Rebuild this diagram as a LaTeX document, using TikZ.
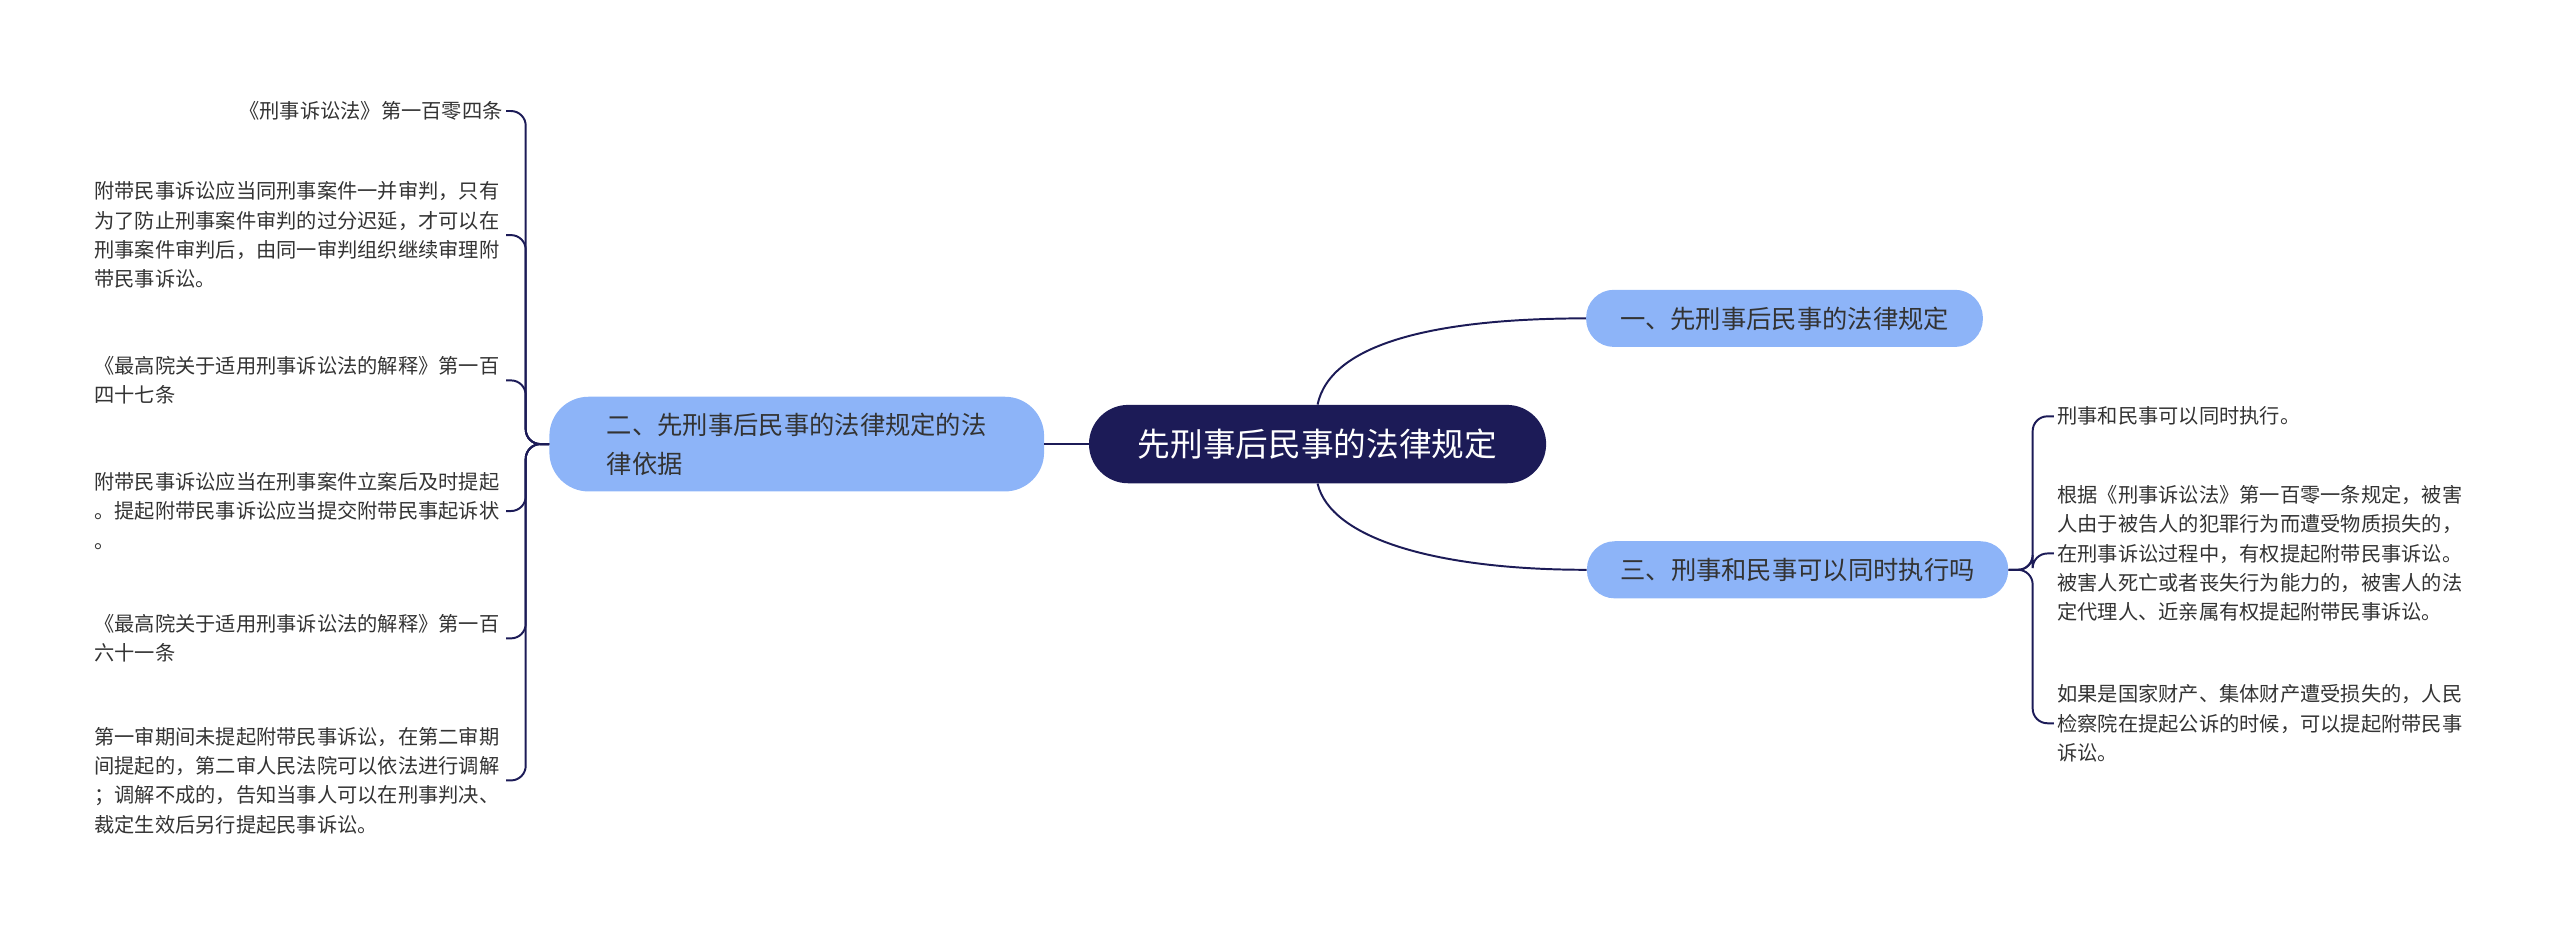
\documentclass[tikz,border=0pt]{standalone}
\usepackage{fontspec}
\setmainfont{Noto Sans CJK SC}
\definecolor{navy}{HTML}{1C1B57}
\definecolor{lblue}{HTML}{8DB4F8}
\definecolor{txt}{HTML}{333333}
\begin{document}
\begin{tikzpicture}[x=1pt,y=-1pt,
  hub/.style={rounded corners=24pt,fill=navy,text=white,minimum width=280pt,minimum height=48pt,font=\fontsize{20}{24}\selectfont},
  sub/.style={rounded corners=17pt,fill=lblue,text=txt,minimum height=35pt,font=\fontsize{15.5}{24}\selectfont,inner xsep=16pt},
  leafL/.style={anchor=east,align=left,text=txt,font=\fontsize{12.4}{18}\selectfont,inner sep=2pt},
  leafR/.style={anchor=west,align=left,text=txt,font=\fontsize{12.4}{18}\selectfont,inner sep=2pt},
  conn/.style={draw=navy,line width=1.2pt,rounded corners=9pt}]
\useasboundingbox (0,0) rectangle (1568,567);
\node[hub] (c) at (807,272) {先刑事后民事的法律规定};
\node[sub,minimum width=243pt] (r1) at (1093,195) {一、先刑事后民事的法律规定};
\node[sub,minimum width=258pt] (r3) at (1101,349) {三、刑事和民事可以同时执行吗};
\node[sub,minimum width=303pt,minimum height=58pt,rounded corners=24pt,align=left] (l2) at (488,272) {二、先刑事后民事的法律规定的法\\律依据};
\draw[navy,line width=1.2pt] (c.north) .. controls (815,210) and (880,195) .. (r1.west);
\draw[navy,line width=1.2pt] (c.south) .. controls (815,330) and (880,349) .. (r3.west);
\draw[navy,line width=1.2pt] (c.west) -- (l2.east);
% left leaves
\node[leafL] (a1) at (310,68) {《刑事诉讼法》第一百零四条};
\node[leafL,text width=250pt] (a2) at (310,144) {附带民事诉讼应当同刑事案件一并审判，只有\\为了防止刑事案件审判的过分迟延，才可以在\\刑事案件审判后，由同一审判组织继续审理附\\带民事诉讼。};
\node[leafL,text width=250pt] (a3) at (310,233) {《最高院关于适用刑事诉讼法的解释》第一百\\四十七条};
\node[leafL,text width=250pt] (a4) at (310,313) {附带民事诉讼应当在刑事案件立案后及时提起\\。提起附带民事诉讼应当提交附带民事起诉状\\。};
\node[leafL,text width=250pt] (a5) at (310,391) {《最高院关于适用刑事诉讼法的解释》第一百\\六十一条};
\node[leafL,text width=250pt] (a6) at (310,478) {第一审期间未提起附带民事诉讼，在第二审期\\间提起的，第二审人民法院可以依法进行调解\\；调解不成的，告知当事人可以在刑事判决、\\裁定生效后另行提起民事诉讼。};
\foreach \n in {a1,a2,a3,a4,a5,a6}{
  \draw[conn] (l2.west) -- (322,272) |- (\n.east);
}
% right leaves
\node[leafR] (b1) at (1258,255) {刑事和民事可以同时执行。};
\node[leafR] (b2) at (1258,339) {根据《刑事诉讼法》第一百零一条规定，被害\\人由于被告人的犯罪行为而遭受物质损失的，\\在刑事诉讼过程中，有权提起附带民事诉讼。\\被害人死亡或者丧失行为能力的，被害人的法\\定代理人、近亲属有权提起附带民事诉讼。};
\node[leafR] (b3) at (1258,443) {如果是国家财产、集体财产遭受损失的，人民\\检察院在提起公诉的时候，可以提起附带民事\\诉讼。};
\foreach \n in {b1,b2,b3}{
  \draw[conn] (r3.east) -- (1245,349) |- (\n.west);
}
\end{tikzpicture}
\end{document}
